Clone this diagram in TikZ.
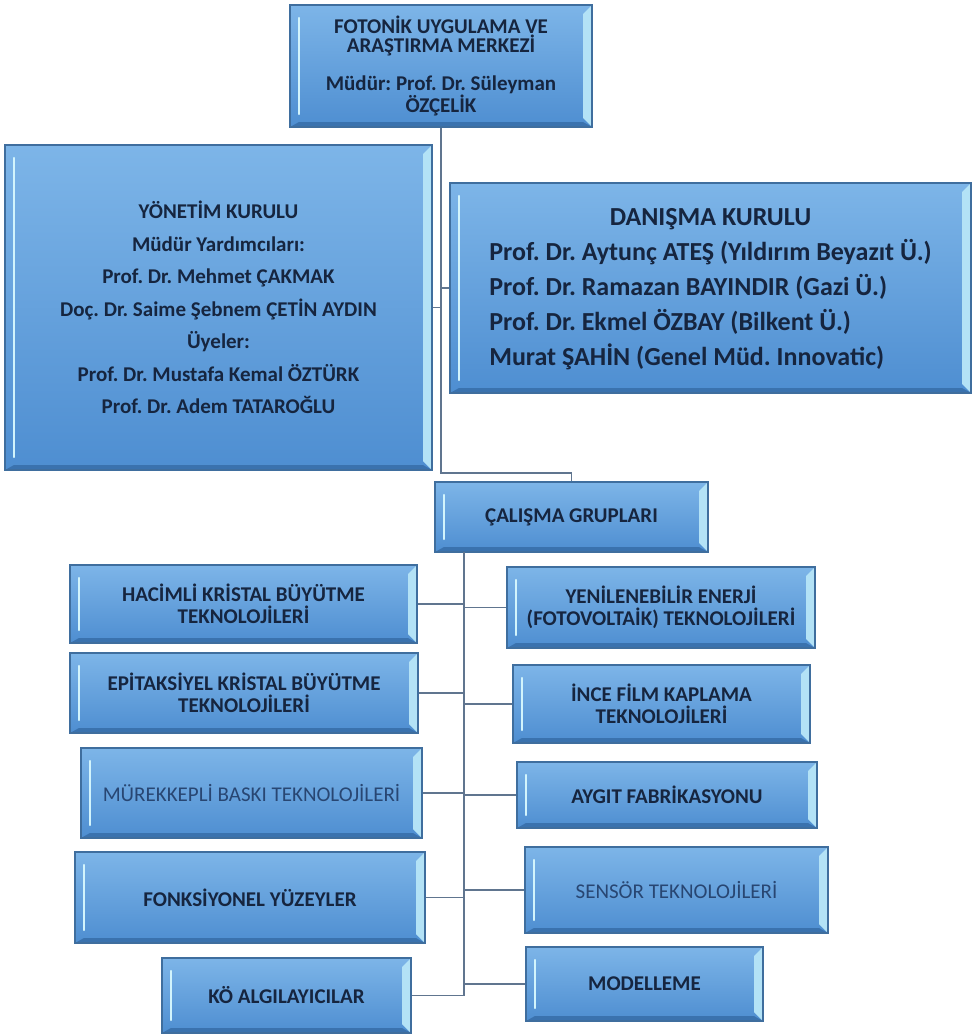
\documentclass[tikz,border=0pt]{standalone}
\usepackage{fontspec}
\setmainfont{Carlito}
\usetikzlibrary{calc}
\frenchspacing
\definecolor{boxtop}{HTML}{7DB5E8}
\definecolor{boxbot}{HTML}{4E8ED1}
\definecolor{boxline}{HTML}{3F6E9E}
\definecolor{bevelR}{HTML}{B3E2F6}
\definecolor{bevelB}{HTML}{3A72AE}
\definecolor{hilite}{HTML}{D2F4FC}
\definecolor{txt}{HTML}{16253F}
\definecolor{txtlight}{HTML}{284672}
\definecolor{linkcol}{HTML}{60758F}
\tikzset{
  orgbox/.style={rectangle, inner sep=0pt, draw=boxline, line width=1.2pt,
    top color=boxtop, bottom color=boxbot, text=txt, align=center,
    font=\bfseries\fontsize{21}{22}\selectfont,
    path picture={
      \fill[bevelR] ([xshift=-9pt,yshift=-9pt]path picture bounding box.north east)
        -- (path picture bounding box.north east)
        -- (path picture bounding box.south east)
        -- ([xshift=-9pt,yshift=9pt]path picture bounding box.south east) -- cycle;
      \fill[bevelB] ([xshift=9pt,yshift=5pt]path picture bounding box.south west)
        -- (path picture bounding box.south west)
        -- (path picture bounding box.south east)
        -- ([xshift=-9pt,yshift=5pt]path picture bounding box.south east) -- cycle;
      \draw[hilite, line width=2.2pt, line cap=round]
        ([xshift=9pt,yshift=-13pt]path picture bounding box.north west)
        -- ([xshift=9pt,yshift=13pt]path picture bounding box.south west);
    }},
  plain/.style={font=\mdseries\fontsize{21}{22}\selectfont, text=txtlight},
  link/.style={draw=linkcol, line width=1.5pt},
}
\begin{document}
\begin{tikzpicture}[x=1pt,y=-1pt]
\useasboundingbox (0,0) rectangle (974,1036);

\node[orgbox, minimum width=302, minimum height=122, font=\bfseries\fontsize{21}{19}\selectfont] (top) at (441,66)
  {FOTONİK UYGULAMA VE\\ARAŞTIRMA MERKEZİ\\[19pt]Müdür: Prof. Dr. Süleyman\\ÖZÇELİK};

\node[orgbox, minimum width=427, minimum height=325, font=\bfseries\fontsize{21}{32.5}\selectfont] (yk) at (218.5,307.5)
  {YÖNETİM KURULU\\Müdür Yardımcıları:\\Prof. Dr. Mehmet ÇAKMAK\\Doç. Dr. Saime Şebnem ÇETİN AYDIN\\Üyeler:\\Prof. Dr. Mustafa Kemal ÖZTÜRK\\Prof. Dr. Adem TATAROĞLU};

\node[orgbox, minimum width=521, minimum height=210, font=\bfseries\fontsize{26}{35}\selectfont] (dk) at (710.5,288)
  {\begin{tabular}{@{}l@{}}\multicolumn{1}{@{}c@{}}{DANIŞMA KURULU}\\
   Prof. Dr. Aytunç ATEŞ (Yıldırım Beyazıt Ü.)\\
   Prof. Dr. Ramazan BAYINDIR (Gazi Ü.)\\
   Prof. Dr. Ekmel ÖZBAY (Bilkent Ü.)\\
   Murat ŞAHİN (Genel Müd. Innovatic)\end{tabular}};

\node[orgbox, minimum width=273, minimum height=70] (cg) at (571.5,517) {ÇALIŞMA GRUPLARI};

\node[orgbox, minimum width=347, minimum height=78] (l1) at (243.5,604) {HACİMLİ KRİSTAL BÜYÜTME\\TEKNOLOJİLERİ};
\node[orgbox, minimum width=348, minimum height=80] (l2) at (244,693) {EPİTAKSİYEL KRİSTAL BÜYÜTME\\TEKNOLOJİLERİ};
\node[orgbox, plain, minimum width=341, minimum height=90] (l3) at (251.5,793) {MÜREKKEPLİ BASKI TEKNOLOJİLERİ};
\node[orgbox, minimum width=350, minimum height=91] (l4) at (250,897.5) {FONKSİYONEL YÜZEYLER};
\node[orgbox, minimum width=249, minimum height=75] (l5) at (286.5,995.5) {KÖ ALGILAYICILAR};

\node[orgbox, minimum width=308, minimum height=81] (r1) at (661,607.5) {YENİLENEBİLİR ENERJİ\\(FOTOVOLTAİK) TEKNOLOJİLERİ};
\node[orgbox, minimum width=297, minimum height=78] (r2) at (661.5,704) {İNCE FİLM KAPLAMA\\TEKNOLOJİLERİ};
\node[orgbox, minimum width=300, minimum height=66] (r3) at (667,795) {AYGIT FABRİKASYONU};
\node[orgbox, plain, minimum width=303, minimum height=86] (r4) at (676.5,890) {SENSÖR TEKNOLOJİLERİ};
\node[orgbox, minimum width=237, minimum height=74] (r5) at (644.5,984) {MODELLEME};

% connectors
\coordinate (bend) at (441,473);
\coordinate (tk) at (464,552);
\draw[link] (top.south) -- (bend) -| (cg.north);
\draw[link] (yk.east) -- (yk.east -| top.south);
\draw[link] (dk.west) -- (dk.west -| top.south);
\draw[link] (tk) -- (tk |- l5.east);
\foreach \n in {l1,l2,l3,l4,l5} \draw[link] (\n.east) -- (\n.east -| tk);
\foreach \n in {r1,r2,r3,r4,r5} \draw[link] (tk |- \n.west) -- (\n.west);
\end{tikzpicture}
\end{document}
